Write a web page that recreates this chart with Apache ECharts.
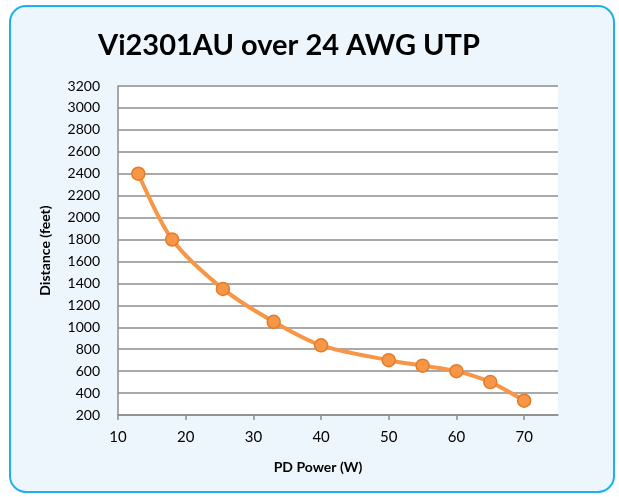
<!DOCTYPE html>
<html>
<head>
<meta charset="utf-8">
<script src="https://cdn.jsdelivr.net/npm/echarts@6/dist/echarts.min.js"></script>
<style>
  html, body { margin: 0; padding: 0; background: #fff; }
  #chart { width: 619px; height: 497px; }
</style>
</head>
<body>
<div id="chart"></div>
<script>
// data
const powerW = [13, 18, 25.5, 33, 40, 50, 55, 60, 65, 70];
const distanceFt = [2400, 1800, 1350, 1050, 835, 700, 650, 600, 500, 330];
const xTicks = [10, 20, 30, 40, 50, 60, 70];

const font = 'Lato, "Open Sans", sans-serif';
const chart = echarts.init(document.getElementById('chart'));

const option = {
  animation: false,
  graphic: [{
    type: 'rect',
    z: -10,
    shape: { x: 10, y: 6, width: 604, height: 486, r: 16 },
    style: { fill: '#eef6fd', stroke: '#1bb1ec', lineWidth: 2 }
  }],
  title: {
    text: 'Vi2301AU over 24 AWG UTP',
    left: 93,
    top: 26,
    textStyle: { fontFamily: font, fontSize: 29, fontWeight: 'bold', color: '#000' }
  },
  grid: {
    left: 118, right: 61, top: 86, bottom: 82,
    show: true, backgroundColor: '#fff', borderWidth: 0
  },
  xAxis: {
    type: 'value',
    min: 10, max: 75, interval: 10,
    name: 'PD Power (W)',
    nameLocation: 'middle',
    nameGap: 45,
    nameTextStyle: { fontFamily: font, fontSize: 14, fontWeight: 'bold', color: '#000', padding: [0, 40, 0, 0] },
    axisLine: { lineStyle: { color: '#8c8c8c', width: 1.5 } },
    axisTick: { length: 5, customValues: xTicks, lineStyle: { color: '#8c8c8c', width: 1.5 } },
    axisLabel: { customValues: xTicks, margin: 15, fontFamily: font, fontSize: 15, color: '#000' },
    splitLine: { show: false }
  },
  yAxis: {
    type: 'value',
    min: 200, max: 3200, interval: 200,
    name: 'Distance (feet)',
    nameLocation: 'middle',
    nameGap: 66,
    nameTextStyle: { fontFamily: font, fontSize: 14, fontWeight: 'bold', color: '#000' },
    axisLine: { show: true, lineStyle: { color: '#8c8c8c', width: 1.5 } },
    axisTick: { show: false },
    axisLabel: { margin: 18, fontFamily: font, fontSize: 14, color: '#000', formatter: v => String(v) },
    splitLine: { lineStyle: { color: '#8c8c8c', width: 1.5 } }
  },
  series: [{
    type: 'line',
    data: powerW.map((p, i) => [p, distanceFt[i]]),
    smooth: 0.3,
    symbol: 'circle',
    symbolSize: 13,
    lineStyle: { color: '#f79646', width: 4 },
    itemStyle: { color: '#f79646', borderColor: '#e17d2c', borderWidth: 1.5 }
  }]
};

chart.setOption(option);
</script>
</body>
</html>
